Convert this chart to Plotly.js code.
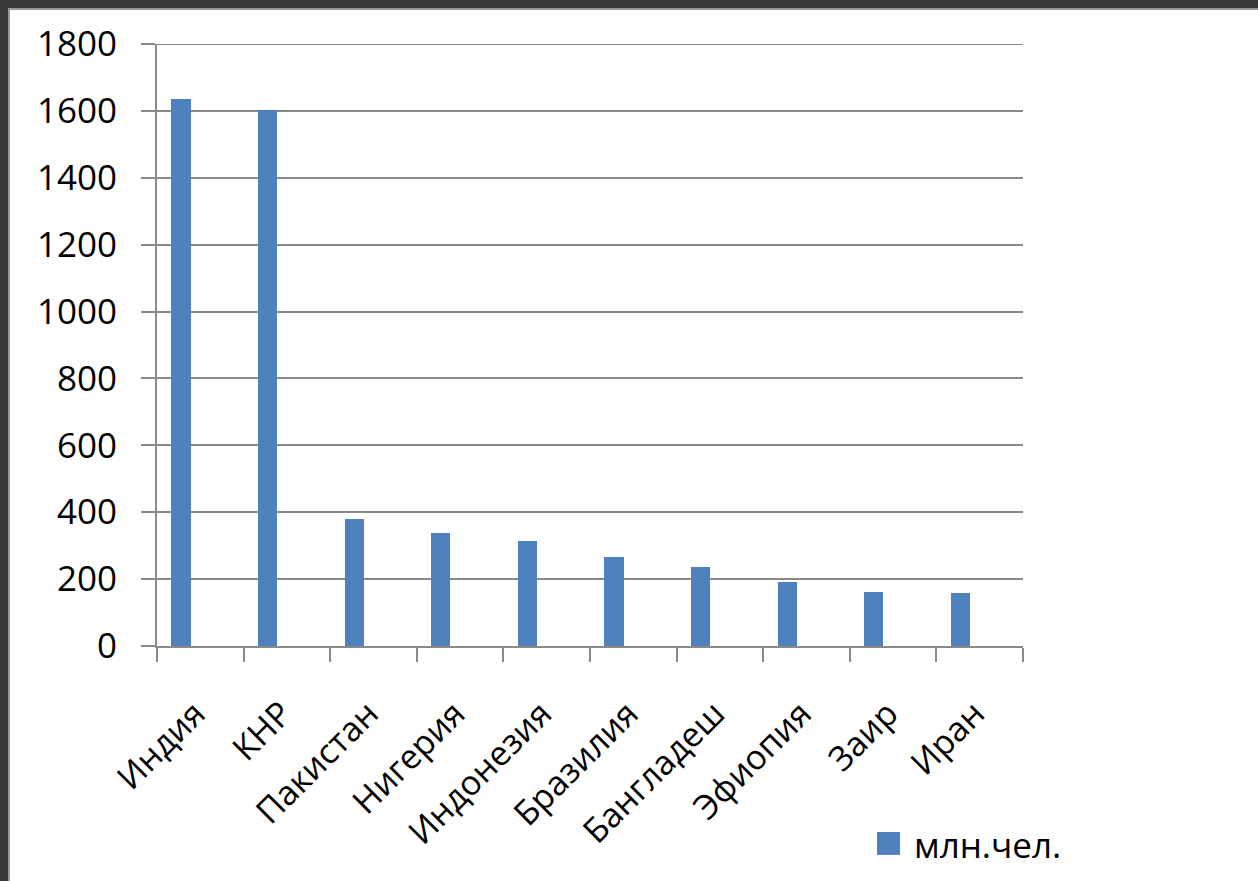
<!DOCTYPE html>
<html>
<head>
<meta charset="utf-8">
<script src="https://cdn.plot.ly/plotly-3.0.1.min.js"></script>
<style>
  html, body { margin: 0; padding: 0; background: #383838; width: 1258px; height: 881px; overflow: hidden; }
  #frame { position: absolute; left: 8px; top: 8px; width: 1250px; height: 873px; background: #9a9a9a; }
  #chart { position: absolute; left: 10px; top: 10px; width: 1248px; height: 871px; background: #fff; }
</style>
</head>
<body>
<div id="frame"></div>
<div id="chart"></div>
<script>
const categories = ["Индия", "КНР", "Пакистан", "Нигерия", "Индонезия", "Бразилия", "Бангладеш", "Эфиопия", "Заир", "Иран"];
const values = [1636, 1603, 379, 337, 314, 266, 237, 192, 161, 158];
const seriesName = "млн.чел.";
const yTicks = [0, 200, 400, 600, 800, 1000, 1200, 1400, 1600, 1800];

const barColor = "#4F81BD";
const gridColor = "#8a8a8a";
const fontFamily = "Open Sans, DejaVu Sans, sans-serif";

const trace = {
  type: "bar",
  x: categories,
  y: values,
  name: seriesName,
  marker: { color: barColor },
  width: 0.222,
  offset: -0.333,
  showlegend: false
};

const layout = {
  width: 1248,
  height: 871,
  margin: { l: 147, r: 235, t: 34, b: 235 },
  paper_bgcolor: "#ffffff",
  plot_bgcolor: "#ffffff",
  font: { family: fontFamily, size: 35, color: "#000" },
  bargap: 0,
  xaxis: {
    type: "category",
    range: [-0.5, 9.5],
    tickson: "boundaries",
    ticks: "outside",
    ticklen: 14,
    tickwidth: 2,
    tickcolor: gridColor,
    showline: true,
    linecolor: gridColor,
    linewidth: 2,
    showgrid: false,
    tickangle: -45,
    ticklabelstandoff: 32,
    ticklabelshift: -5,
    tickfont: { family: fontFamily, size: 34, color: "#000" }
  },
  yaxis: {
    range: [0, 1800],
    tickvals: yTicks,
    ticktext: yTicks.map(String),
    ticks: "outside",
    ticklen: 14,
    tickwidth: 2,
    tickcolor: gridColor,
    showline: true,
    linecolor: gridColor,
    linewidth: 2,
    showgrid: true,
    gridcolor: gridColor,
    gridwidth: 2,
    zeroline: false,
    ticklabelstandoff: 17,
    tickfont: { family: fontFamily, size: 35, color: "#000" }
  },
  shapes: [
    { type: "line", xref: "paper", yref: "y", x0: 0, x1: 1, y0: 1800, y1: 1800,
      layer: "below", line: { color: gridColor, width: 2 } },
    { type: "rect", xref: "paper", yref: "paper", x0: 0.8314, x1: 0.858, y0: -0.309, y1: -0.347,
      fillcolor: barColor, line: { width: 0 } }
  ],
  annotations: [
    { xref: "paper", yref: "paper", x: 0.8718, y: -0.329, xanchor: "left", yanchor: "middle",
      showarrow: false, text: seriesName, font: { family: fontFamily, size: 35, color: "#000" } }
  ]
};

Plotly.newPlot("chart", [trace], layout, { displayModeBar: false, staticPlot: true });
</script>
</body>
</html>
